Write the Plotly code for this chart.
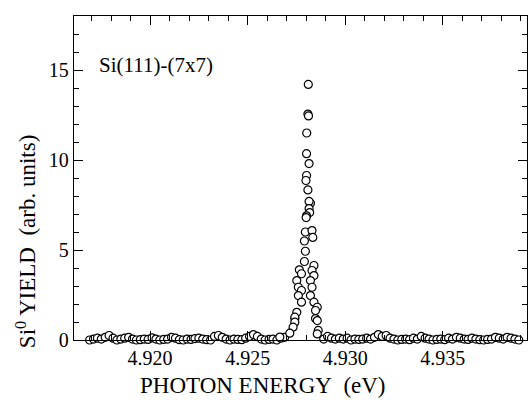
import plotly.graph_objects as go

# Background scan (left of resonance)
bg_left_x = [4.9169, 4.9171, 4.9173, 4.9175, 4.9177, 4.9179, 4.9181, 4.9183, 4.9185, 4.9187,
             4.9189, 4.9191, 4.9193, 4.9195, 4.9197, 4.9199, 4.9201, 4.9203, 4.9205, 4.9207,
             4.9209, 4.9211, 4.9213, 4.9215, 4.9217, 4.9219, 4.9221, 4.9223, 4.9225, 4.9227,
             4.9229, 4.9231, 4.9233, 4.9235, 4.9237, 4.9239, 4.9241, 4.9243, 4.9245, 4.9247,
             4.9249, 4.9251, 4.9253, 4.9255, 4.9257, 4.9259, 4.9261, 4.9263, 4.9265, 4.9267,
             4.9269]
bg_left_y = [0.0, 0.05, 0.1, 0.05, 0.15, 0.25, 0.1, 0.0, 0.05, 0.1,
             0.15, 0.05, 0.0, 0.02, 0.05, 0.03, 0.12, 0.05, 0.0, 0.03,
             0.05, 0.15, 0.1, 0.02, 0.0, 0.05, 0.03, 0.08, 0.1, 0.05,
             0.02, 0.0, 0.2, 0.25, 0.15, 0.05, 0.0, 0.05, 0.03, 0.02,
             0.1, 0.2, 0.3, 0.2, 0.05, 0.0, 0.03, 0.05, 0.0, 0.1,
             0.15]

# Background scan (right of resonance)
bg_right_x = [4.9289, 4.9291, 4.9293, 4.9295, 4.9297, 4.9299, 4.9301, 4.9303, 4.9305, 4.9307,
              4.9309, 4.9311, 4.9313, 4.9315, 4.9317, 4.9319, 4.9321, 4.9323, 4.9325, 4.9327,
              4.9329, 4.9331, 4.9333, 4.9335, 4.9337, 4.9339, 4.9341, 4.9343, 4.9345, 4.9347,
              4.9349, 4.9351, 4.9353, 4.9355, 4.9357, 4.9359, 4.9361, 4.9363, 4.9365, 4.9367,
              4.9369, 4.9371, 4.9373, 4.9375, 4.9377, 4.9379, 4.9381, 4.9383, 4.9385, 4.9387,
              4.9389]
bg_right_y = [0.05, 0.2, 0.1, 0.05, 0.1, 0.05, 0.1, 0.0, 0.05, 0.03,
              0.05, 0.1, 0.05, 0.15, 0.3, 0.2, 0.25, 0.1, 0.05, 0.0,
              0.03, 0.05, 0.02, 0.1, 0.05, 0.2, 0.1, 0.05, 0.0, 0.03,
              0.05, 0.02, 0.1, 0.05, 0.15, 0.1, 0.05, 0.03, 0.1, 0.05,
              0.02, 0.0, 0.03, 0.05, 0.15, 0.1, 0.05, 0.15, 0.1, 0.05,
              0.0]

# Resonance peak points
peak_x = [4.92811, 4.92809, 4.92812, 4.92803, 4.92802, 4.92815, 4.92802, 4.92799,
          4.92809, 4.92822, 4.92815, 4.92815, 4.92818, 4.92802, 4.92800,
          4.92796, 4.92830, 4.92834, 4.92791, 4.92796, 4.92791, 4.92840,
          4.92765, 4.92830, 4.92776, 4.92840, 4.92752, 4.92822, 4.92760,
          4.92830, 4.92776, 4.92760, 4.92822, 4.92776, 4.92840, 4.92857,
          4.92752, 4.92848, 4.92742, 4.92848, 4.92857, 4.92742, 4.92742,
          4.92733, 4.92716, 4.92862, 4.92857, 4.92665]
peak_y = [14.2, 12.55, 12.45, 11.5, 10.35, 9.8, 9.14, 8.86,
          8.34, 7.6, 7.7, 7.3, 7.08, 6.9, 6.8,
          6.0, 6.08, 5.7, 5.5, 4.93, 4.36, 4.14,
          3.9, 3.86, 3.68, 3.58, 3.3, 3.3, 2.93,
          2.93, 2.75, 2.47, 2.47, 2.1, 2.1, 1.82,
          1.54, 1.64, 1.19, 1.19, 1.08, 1.27, 0.99,
          0.71, 0.38, 0.53, 0.34, 0.16]

x_vals = bg_left_x + peak_x + bg_right_x
y_vals = bg_left_y + peak_y + bg_right_y

x_tickvals = [4.920, 4.925, 4.930, 4.935]
x_ticktext = ["4.920", "4.925", "4.930", "4.935"]
y_tickvals = [0, 5, 10, 15]
y_ticktext = ["0", "5", "10", "15"]

FONT = "Liberation Serif"

fig = go.Figure()
fig.add_trace(go.Scatter(
    x=x_vals, y=y_vals, mode="markers",
    marker=dict(symbol="circle", size=8, color="white",
                line=dict(color="black", width=1.2)),
    cliponaxis=False, showlegend=False,
))

axis_common = dict(
    showgrid=False, zeroline=False, showline=True, linecolor="black", linewidth=1.3,
    mirror="allticks", ticks="inside", tickcolor="black", tickwidth=1.2,
    tickfont=dict(family=FONT, size=20, color="black"),
)

fig.update_xaxes(
    **axis_common,
    range=[4.9161, 4.93932],
    tickvals=x_tickvals, ticktext=x_ticktext, ticklen=9,
    minor=dict(dtick=0.001, tick0=4.920, ticks="inside", ticklen=5,
               tickcolor="black", tickwidth=1.2),
)
fig.update_yaxes(
    **axis_common,
    range=[0, 18],
    tickvals=y_tickvals, ticktext=y_ticktext, ticklen=9,
    minor=dict(dtick=1, tick0=0, ticks="inside", ticklen=5,
               tickcolor="black", tickwidth=1.2),
)

# Axis titles as annotations (placed as in the reference)
fig.add_annotation(
    text="PHOTON ENERGY\u00a0\u00a0(eV)", xref="paper", yref="paper",
    x=0.418, y=-0.14, xanchor="center", yanchor="middle", showarrow=False,
    font=dict(family=FONT, size=23, color="black"),
)
fig.add_annotation(
    text="Si<sup>0</sup> YIELD\u00a0\u00a0(arb. units)", xref="paper", yref="paper",
    x=-0.106, y=0.305, xanchor="center", yanchor="middle", textangle=-90,
    showarrow=False, font=dict(family=FONT, size=23, color="black"),
)
fig.add_annotation(
    text="Si(111)-(7x7)", xref="paper", yref="paper", x=0.05, y=0.85,
    xanchor="left", yanchor="middle", showarrow=False,
    font=dict(family=FONT, size=21, color="black"),
)

fig.update_layout(
    width=528, height=400,
    margin=dict(l=74, r=1, t=16, b=60),
    paper_bgcolor="white", plot_bgcolor="white",
)

fig.write_html("out.html")
